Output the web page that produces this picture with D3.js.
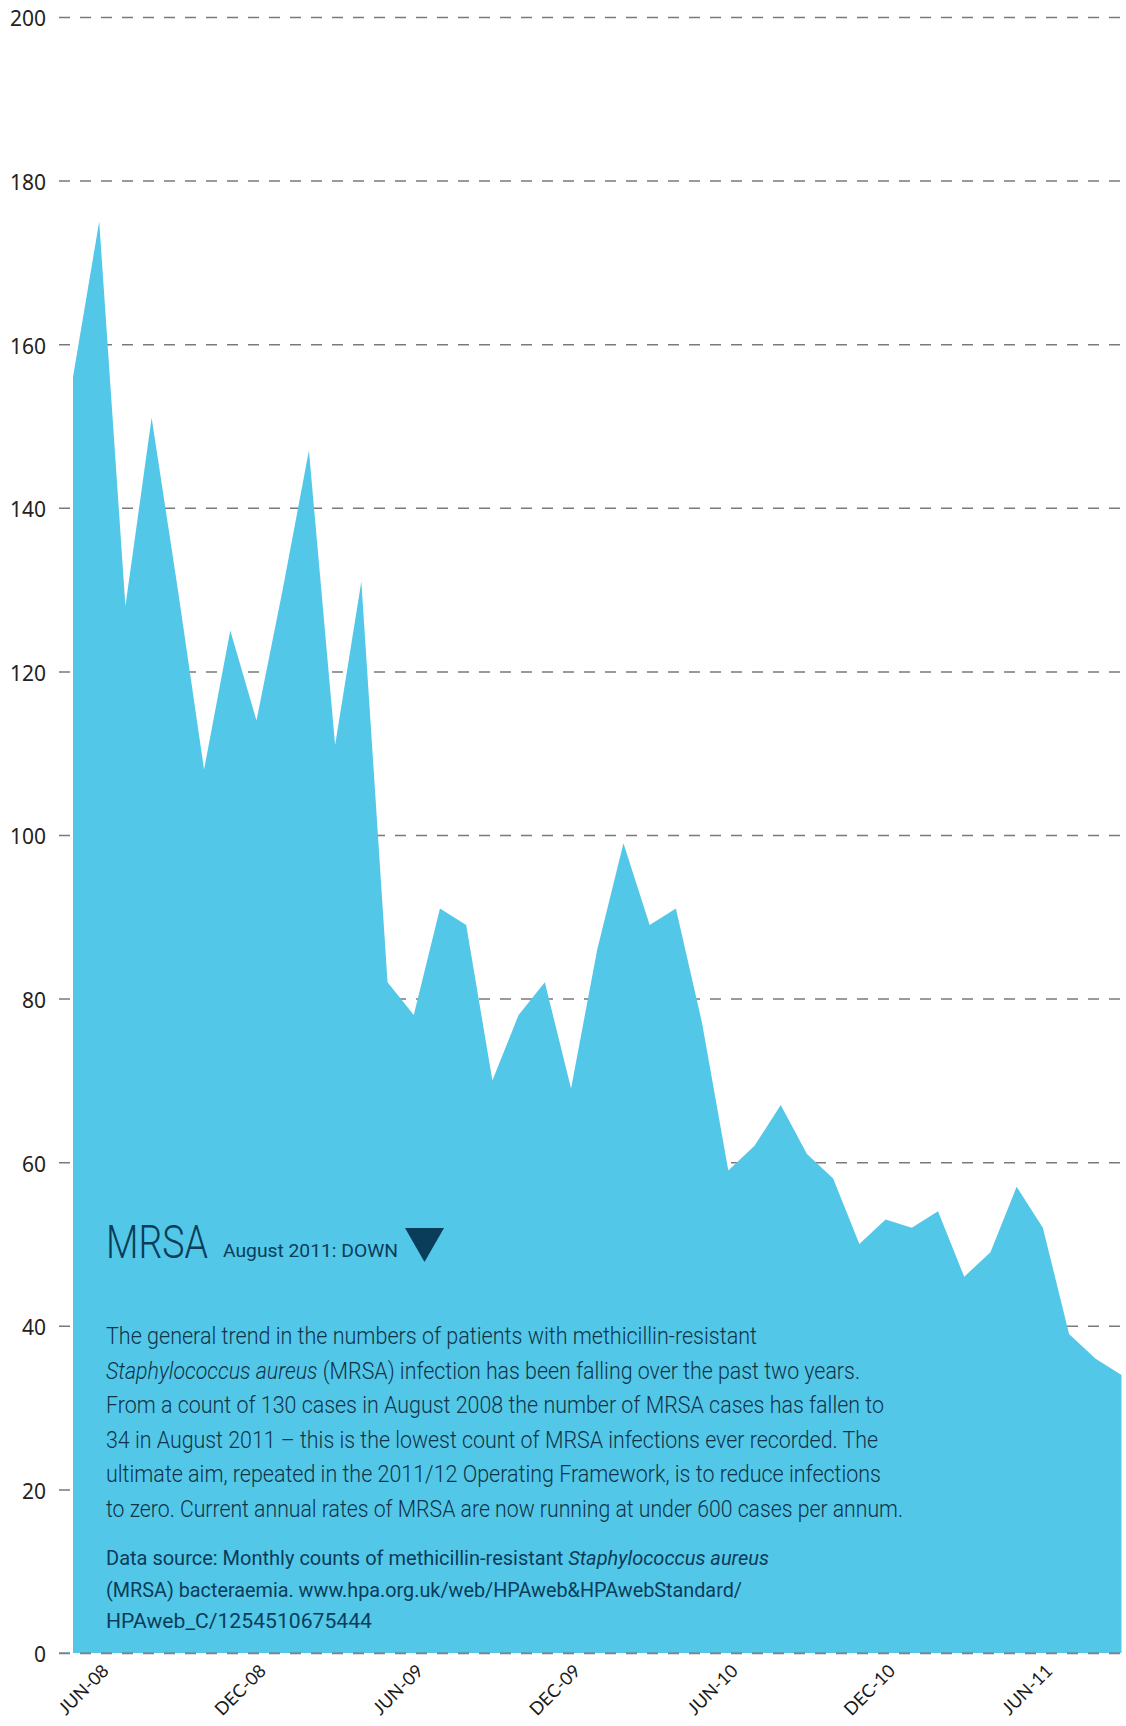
<!DOCTYPE html>
<html>
<head>
<meta charset="utf-8">
<script src="https://cdn.jsdelivr.net/npm/d3@7"></script>
<style>
    body { margin: 0; background: #fff; }
</style>
</head>
<body>
<div id="chart"></div>
<script>
// monthly MRSA bacteraemia counts, Apr 2008 - Aug 2011
const months = [
    'APR-08', 'MAY-08', 'JUN-08', 'JUL-08', 'AUG-08', 'SEP-08', 'OCT-08', 'NOV-08', 'DEC-08',
    'JAN-09', 'FEB-09', 'MAR-09', 'APR-09', 'MAY-09', 'JUN-09', 'JUL-09', 'AUG-09', 'SEP-09',
    'OCT-09', 'NOV-09', 'DEC-09', 'JAN-10', 'FEB-10', 'MAR-10', 'APR-10', 'MAY-10', 'JUN-10',
    'JUL-10', 'AUG-10', 'SEP-10', 'OCT-10', 'NOV-10', 'DEC-10', 'JAN-11', 'FEB-11', 'MAR-11',
    'APR-11', 'MAY-11', 'JUN-11', 'JUL-11', 'AUG-11'
]
const cases = [
    156, 175, 128, 151, 130, 108, 125, 114, 130,
    147, 111, 131, 82, 78, 91, 89, 70, 78,
    82, 69, 86, 99, 89, 91, 77, 59, 62,
    67, 61, 58, 50, 53, 52, 54, 46, 49,
    57, 52, 39, 36, 34
]
const yTicks = [0, 20, 40, 60, 80, 100, 120, 140, 160, 180, 200]
const xTickLabels = ['JUN-08', 'DEC-08', 'JUN-09', 'DEC-09', 'JUN-10', 'DEC-10', 'JUN-11']

const title = 'MRSA'
const status = 'August 2011: DOWN'
// [text, italic]
const bodyLines = [
    [['The general trend in the numbers of patients with methicillin-resistant', false]],
    [['Staphylococcus aureus', true], [' (MRSA) infection has been falling over the past two years.', false]],
    [['From a count of 130 cases in August 2008 the number of MRSA cases has fallen to', false]],
    [['34 in August 2011 \u2013 this is the lowest count of MRSA infections ever recorded. The', false]],
    [['ultimate aim, repeated in the 2011/12 Operating Framework, is to reduce infections', false]],
    [['to zero. Current annual rates of MRSA are now running at under 600 cases per annum.', false]]
]
const sourceLines = [
    [['Data source: Monthly counts of methicillin-resistant ', false], ['Staphylococcus aureus', true]],
    [['(MRSA) bacteraemia. www.hpa.org.uk/web/HPAweb&HPAwebStandard/', false]],
    [['HPAweb_C/1254510675444', false]]
]

// layout: rendered line widths of the note text
const bodyWidths = [651, 754, 778, 772, 775, 797]
const sourceWidths = [663, 636, 266]


class MrsaArea {
    constructor(id) {
        this.id = id
        this.w = 1126
        this.h = 1726
        this.init()
    }

    init() {
        this.initSvg()
        this.initScale()
        this.drawGrid()
        this.drawArea()
        this.drawXAxis()
        this.drawNote()
    }

    initSvg() {
        const div = d3.select(`#${this.id}`)
        div.selectAll('*').remove()
        this.svg = div.append('svg')
            .attr('width', this.w)
            .attr('height', this.h)
        this.svg.append('rect')
            .attr('width', this.w)
            .attr('height', this.h)
            .attr('fill', '#fff')
    }

    initScale() {
        this.x = d3.scalePoint().domain(months).range([73, 1121.5])
        this.y = d3.scaleLinear().domain([0, 200]).range([1653, 17])
    }

    drawGrid() {
        const left = 59
        const axis = d3.axisLeft(this.y)
            .tickValues(yTicks)
            .tickSize(-(this.w - left))
            .tickPadding(13)
        const g = this.svg.append('g')
            .attr('transform', `translate(${left},0)`)
            .call(axis)
        g.select('.domain').remove()
        g.selectAll('.tick line')
            .attr('stroke', '#7a7a7a')
            .attr('stroke-width', 1.5)
            .attr('stroke-dasharray', '11,10')
        g.selectAll('.tick text')
            .attr('font-family', '"Noto Sans", sans-serif')
            .attr('font-size', 21)
            .attr('fill', '#222')
            .attr('dy', '0.42em')
    }

    drawArea() {
        const area = d3.area()
            .x((d, i) => this.x(months[i]))
            .y0(this.y(0))
            .y1(d => this.y(d))
        this.svg.append('path')
            .datum(cases)
            .attr('d', area)
            .attr('fill', '#53c7e8')

        // zero line shows through at the bottom edge
        this.svg.append('line')
            .attr('x1', 59)
            .attr('x2', this.w)
            .attr('y1', this.y(0))
            .attr('y2', this.y(0))
            .attr('stroke', '#6d8f9e')
            .attr('stroke-width', 1.5)
            .attr('stroke-dasharray', '11,10')
    }

    drawXAxis() {
        const axis = d3.axisBottom(this.x)
            .tickValues(xTickLabels)
            .tickSize(0)
        const g = this.svg.append('g')
            .attr('transform', `translate(0,${this.y(0)})`)
            .call(axis)
        g.select('.domain').remove()
        g.selectAll('.tick text')
            .attr('font-family', 'Lato, "Open Sans", sans-serif')
            .attr('font-size', 18)
            .attr('fill', '#1a1a1a')
            .attr('text-anchor', 'end')
            .attr('y', 0)
            .attr('dy', 0)
            .attr('transform', 'translate(-16,19) rotate(-45)')
    }

    writeLines(lines, widths, opts) {
        lines.forEach((parts, i) => {
            const t = this.svg.append('text')
                .attr('x', opts.x)
                .attr('y', opts.y + i * opts.lh)
                .attr('font-family', opts.font)
                .attr('font-size', opts.size)
                .attr('font-weight', opts.weight)
                .attr('fill', opts.color)
                .attr('textLength', widths[i])
                .attr('lengthAdjust', 'spacingAndGlyphs')
                .style('white-space', 'pre')
            parts.forEach(p => {
                t.append('tspan')
                    .attr('font-style', p[1] ? 'italic' : 'normal')
                    .text(p[0])
            })
        })
    }

    drawNote() {
        const navy = '#0b3d5a'
        this.svg.append('text')
            .attr('x', 106)
            .attr('y', 1258)
            .attr('font-family', 'Roboto, sans-serif')
            .attr('font-weight', 300)
            .attr('font-size', 46)
            .attr('fill', navy)
            .attr('textLength', 102)
            .attr('lengthAdjust', 'spacingAndGlyphs')
            .text(title)

        this.svg.append('text')
            .attr('x', 223)
            .attr('y', 1257)
            .attr('font-family', 'Roboto, sans-serif')
            .attr('font-size', 18)
            .attr('fill', navy)
            .attr('textLength', 175)
            .attr('lengthAdjust', 'spacingAndGlyphs')
            .text(status)

        // down arrow
        this.svg.append('path')
            .attr('d', d3.line()([[405, 1228], [444, 1228], [424.5, 1262]]) + 'Z')
            .attr('fill', '#0a3d5a')

        this.writeLines(bodyLines, bodyWidths, {
            x: 106, y: 1344, lh: 34.6, size: 23, weight: 300,
            font: 'Roboto, sans-serif', color: '#0f3448'
        })
        this.writeLines(sourceLines, sourceWidths, {
            x: 106, y: 1565, lh: 31.5, size: 20.5, weight: 400,
            font: 'Roboto, sans-serif', color: '#0b3d5a'
        })
    }
}

new MrsaArea('chart')
</script>
</body>
</html>
